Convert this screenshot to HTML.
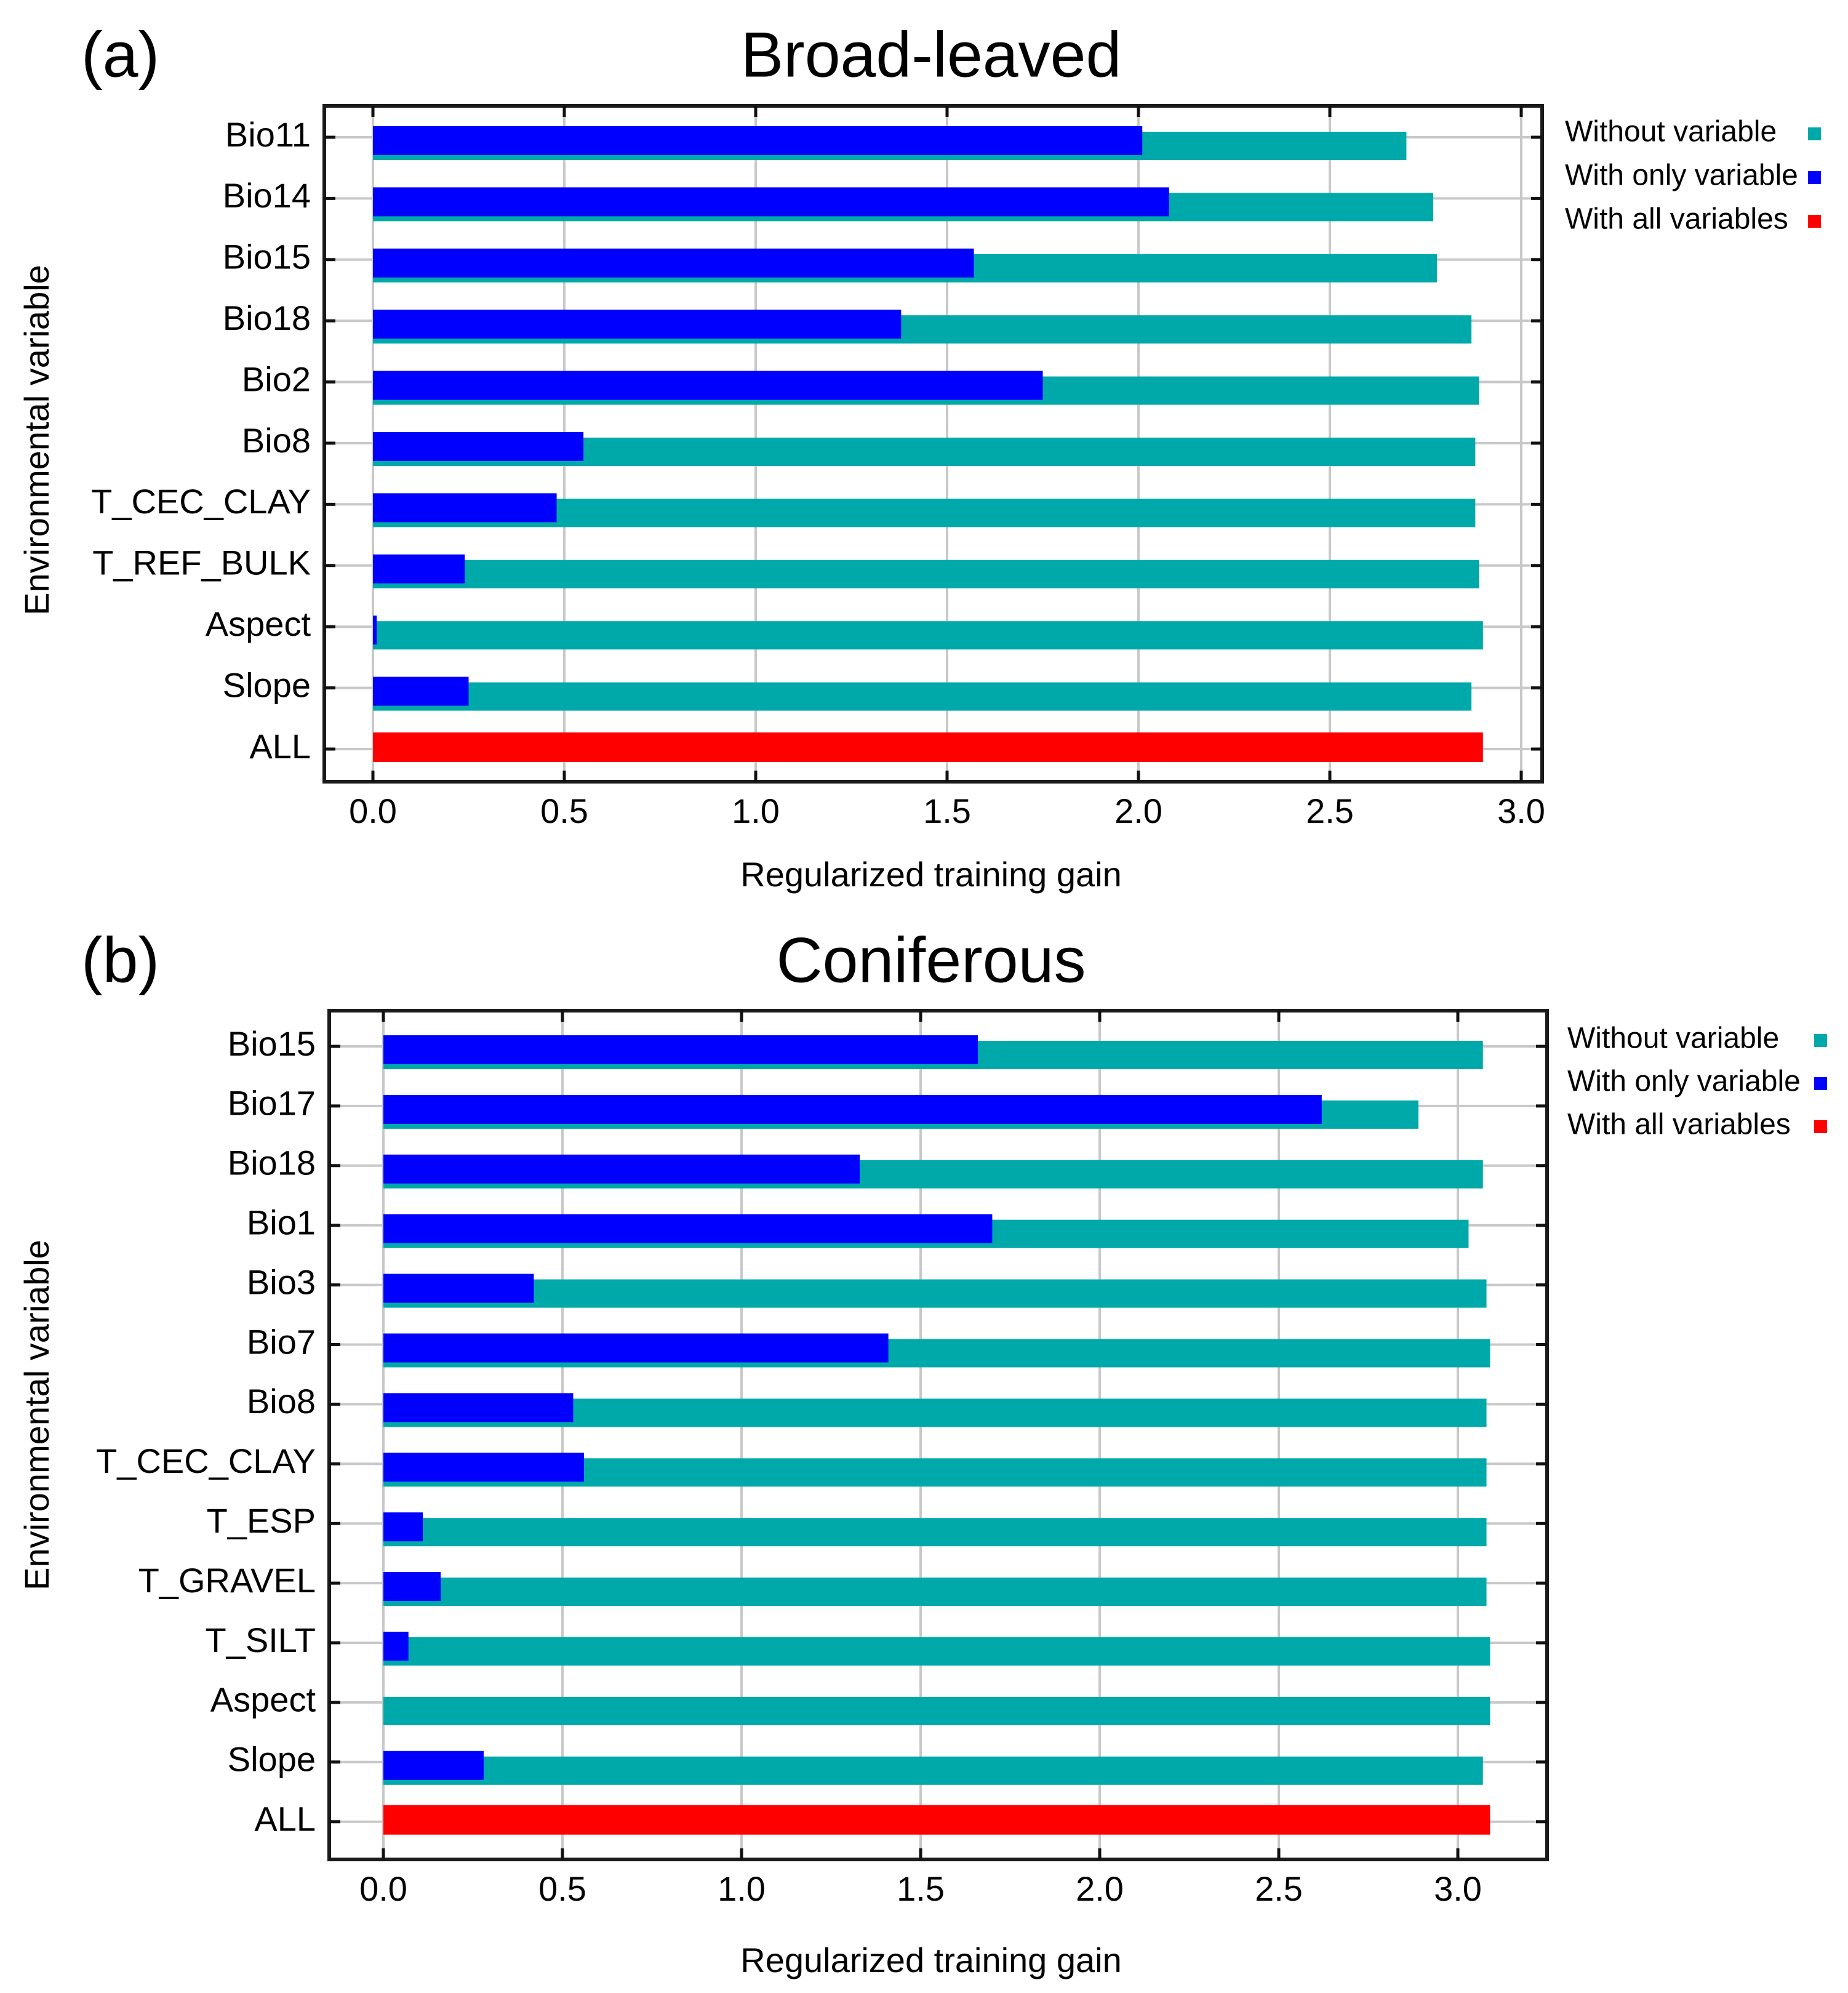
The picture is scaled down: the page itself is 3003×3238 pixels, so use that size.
<!DOCTYPE html>
<html><head><meta charset="utf-8"><style>
html,body{margin:0;padding:0;background:#fff;}
svg{display:block;font-family:"Liberation Sans",Arial,sans-serif;}
</style></head><body>
<svg id="fig" width="3003" height="3238" viewBox="0 0 3003 3238"></svg>
<script>
// Panel (a) data
const catsA = ["Bio11","Bio14","Bio15","Bio18","Bio2","Bio8","T_CEC_CLAY","T_REF_BULK","Aspect","Slope","ALL"];
const withoutA = [2.70,2.77,2.78,2.87,2.89,2.88,2.88,2.89,2.90,2.87,null];
const onlyA = [2.01,2.08,1.57,1.38,1.75,0.55,0.48,0.24,0.01,0.25,null];
const allA = 2.90;
// Panel (b) data
const catsB = ["Bio15","Bio17","Bio18","Bio1","Bio3","Bio7","Bio8","T_CEC_CLAY","T_ESP","T_GRAVEL","T_SILT","Aspect","Slope","ALL"];
const withoutB = [3.07,2.89,3.07,3.03,3.08,3.09,3.08,3.08,3.08,3.08,3.09,3.09,3.07,null];
const onlyB = [1.66,2.62,1.33,1.70,0.42,1.41,0.53,0.56,0.11,0.16,0.07,0.0,0.28,null];
const allB = 3.09;
const xTicks = [0,0.5,1.0,1.5,2.0,2.5,3.0];
const xTickLabels = ["0.0","0.5","1.0","1.5","2.0","2.5","3.0"];
const legendLabels = ["Without variable","With only variable","With all variables"];

const NS="http://www.w3.org/2000/svg";
const svg=document.getElementById('fig');
function mk(tag,attrs,parent){const e=document.createElementNS(NS,tag);for(const k in attrs)e.setAttribute(k,attrs[k]);(parent||svg).appendChild(e);return e;}
const TEAL="#00a9a9",BLUE="#0000ff",RED="#ff0000";

function panel(p,cats,without,only,allVal){
  const g=mk('g',{});
  
  
  const xs=v=>p.x0+v*p.unit;
  const ys=i=>p.y0+i*p.step;
  const lt=mk('text',{x:p.letterX,y:p.titleY,'font-size':104,'dominant-baseline':'middle'},g);
  lt.textContent=p.letter;
  
  
  const tt=mk('text',{x:1513,y:p.titleY,'font-size':104,'text-anchor':'middle','dominant-baseline':'middle'},g);
  tt.textContent=p.title;
  
  
  xTicks.forEach(v=>{
    const l=mk('line',{x1:xs(v),x2:xs(v),y1:p.top,y2:p.bottom,stroke:'#c8c8c8','stroke-width':4},g);
    
    
  });
  cats.forEach((c,i)=>{
    const l=mk('line',{x1:p.left,x2:p.right,y1:ys(i),y2:ys(i),stroke:'#c8c8c8','stroke-width':4},g);
    
    
  });
  cats.forEach((c,i)=>{
    const yc=ys(i);
    const lb=mk('text',{x:p.left-22,y:yc,'font-size':56,'text-anchor':'end','dominant-baseline':'middle'},g);
    lb.textContent=c;
    
    
    if(c==="ALL"){
      const r=mk('rect',{x:xs(0),y:yc-27,width:xs(allVal)-xs(0),height:48,fill:RED},g);
      
      
      return;
    }
    const t=mk('rect',{x:xs(0),y:yc-9,width:xs(without[i])-xs(0),height:46,fill:TEAL},g);
    
    
    if(only[i]>0){
      const b=mk('rect',{x:xs(0),y:yc-18,width:xs(only[i])-xs(0),height:47,fill:BLUE},g);
      
      
    }
  });
  const fr=mk('rect',{x:p.left,y:p.top,width:p.right-p.left,height:p.bottom-p.top,fill:'none',stroke:'#1a1a1a','stroke-width':6},g);
  
  
  xTicks.forEach((v,i)=>{
    mk('line',{x1:xs(v),x2:xs(v),y1:p.top,y2:p.top+18,stroke:'#111','stroke-width':5},g);
    mk('line',{x1:xs(v),x2:xs(v),y1:p.bottom,y2:p.bottom-18,stroke:'#111','stroke-width':5},g);
    const tl=mk('text',{x:xs(v),y:p.bottom+52,'font-size':56,'text-anchor':'middle','dominant-baseline':'middle'},g);
    tl.textContent=xTickLabels[i];
    
    
  });
  cats.forEach((c,i)=>{
    mk('line',{x1:p.left,x2:p.left+18,y1:ys(i),y2:ys(i),stroke:'#111','stroke-width':5},g);
    mk('line',{x1:p.right,x2:p.right-18,y1:ys(i),y2:ys(i),stroke:'#111','stroke-width':5},g);
  });
  const xt=mk('text',{x:1513,y:p.xTitleY,'font-size':56,'text-anchor':'middle','dominant-baseline':'middle'},g);
  xt.textContent="Regularized training gain";
  
  
  const yt=mk('text',{x:0,y:0,'font-size':56,'text-anchor':'middle','dominant-baseline':'middle',transform:`translate(64,${p.yTitleY}) rotate(-90)`},g);
  yt.textContent="Environmental variable";
  
  
  const cols=[TEAL,BLUE,RED];
  legendLabels.forEach((s,i)=>{
    const ly=p.legY+i*p.legStep;
    const lt2=mk('text',{x:p.legX,y:ly,'font-size':48,'dominant-baseline':'middle'},g);
    lt2.textContent=s;
    
    
    const sq=mk('rect',{x:p.sqX,y:ly-10,width:21,height:21,fill:cols[i]},g);
    
    
  });
}

panel({id:'broad-leaved',letter:'(a)',title:'Broad-leaved',letterX:132,titleY:97,
  left:527,right:2506,top:172,bottom:1270,x0:606,unit:622,y0:223,step:99.4,
  xTitleY:1425,yTitleY:715,legX:2543,legY:217,legStep:71,sqX:2938},
  catsA,withoutA,onlyA,allA);
panel({id:'coniferous',letter:'(b)',title:'Coniferous',letterX:132,titleY:1568,
  left:535,right:2514,top:1642,bottom:3021,x0:623,unit:582,y0:1700,step:96.9,
  xTitleY:3189,yTitleY:2299,legX:2547,legY:1690,legStep:70,sqX:2948},
  catsB,withoutB,onlyB,allB);
</script>
</body></html>
